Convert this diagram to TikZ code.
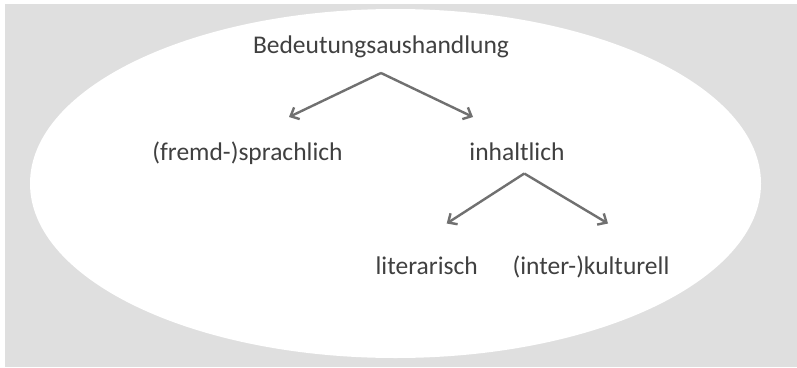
\documentclass[tikz,border=0pt]{standalone}
\usepackage{fontspec}
\setmainfont{Carlito}
\usetikzlibrary{arrows.meta}
\definecolor{panelgray}{RGB}{223,223,223}
\definecolor{labelgray}{RGB}{64,64,64}
\definecolor{arrowgray}{RGB}{112,112,112}
\tikzset{
  term/.style={text=labelgray, font=\fontsize{25.5}{30}\selectfont, inner sep=0pt, anchor=base},
  link/.style={draw=arrowgray, line width=2.4pt, -{Straight Barb[length=7pt,width=13pt,line width=2.4pt]}}
}
\begin{document}
\begin{tikzpicture}[x=1pt,y=-1pt]
\useasboundingbox (0,0) rectangle (797,367);
% backdrop and oval field
\fill[panelgray] (5,4) rectangle (797,367);
\fill[white] (395.5,183.5) ellipse [x radius=365.5, y radius=174.5];

% labels
\node[term] (root) at (381,53) {Bedeutungsaushandlung};
\node[term] (lang) at (247.5,160) {(fremd-)sprachlich};
\node[term] (cont) at (517,160) {inhaltlich};
\node[term] (lit)  at (426.7,274) {literarisch};
\node[term] (cult) at (591,274) {(inter-)kulturell};

% branch points and arrow ends
\coordinate (rootfork) at (381,73);
\coordinate (langend) at (289,117);
\coordinate (contend) at (473,117);
\coordinate (contfork) at (524.3,173.5);
\coordinate (litend) at (446.7,223.5);
\coordinate (cultend) at (608,223.5);

\draw[link] (rootfork) -- (langend);
\draw[link] (rootfork) -- (contend);
\draw[link] (contfork) -- (litend);
\draw[link] (contfork) -- (cultend);
\end{tikzpicture}
\end{document}
